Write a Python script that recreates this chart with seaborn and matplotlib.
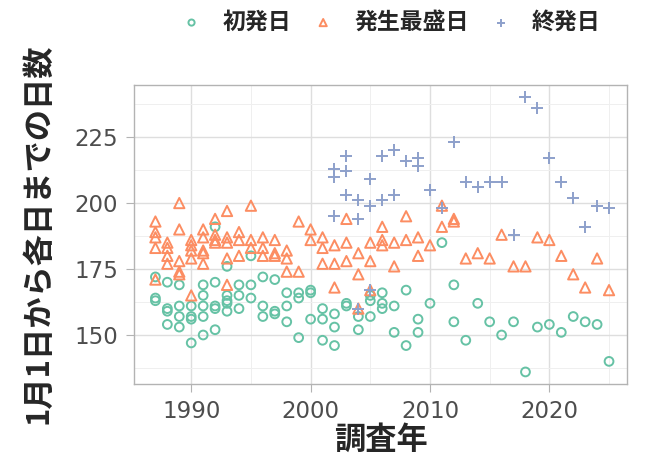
import numpy as np
import pandas as pd
import matplotlib
matplotlib.use('Agg')
import matplotlib.pyplot as plt
import seaborn as sns
from matplotlib.ticker import MultipleLocator

# 調査年ごとの観測値（複数地点）
years = list(range(1987, 2026))
first_day = [
    [172, 164, 163], [170, 160, 159, 154], [169, 161, 157, 153], [161, 157, 156, 147],
    [169, 165, 161, 157, 150], [191, 170, 161, 160, 152], [176, 165, 163, 162, 159],
    [169, 165, 160], [180, 169, 164], [172, 161, 157], [171, 159, 158], [166, 161, 155],
    [166, 164, 149], [167, 166, 156], [160, 156, 148], [158, 153, 146], [162, 161],
    [157, 152], [165, 163, 157], [166, 162, 160], [161, 151], [167, 146], [156, 151],
    [162], [185], [169, 155], [148], [162], [155], [150], [155], [136], [153], [154],
    [151], [157], [155], [154], [140],
]
peak_day = [
    [193, 189, 187, 183, 171], [185, 183, 180, 177], [200, 190, 178, 174, 173],
    [186, 184, 182, 179, 165], [190, 187, 182, 181, 177], [194, 188, 186, 185],
    [197, 187, 185, 179, 169], [189, 186, 180], [199, 186, 183], [187, 183, 180],
    [186, 181, 180], [182, 179, 174], [193, 174], [190, 186], [187, 183, 177],
    [184, 177, 168], [194, 185, 178], [181, 173, 160], [185, 178, 167], [191, 186, 184],
    [185, 176], [195, 186], [187, 180], [184], [199, 191], [194, 193], [179], [181],
    [179], [188], [176], [176], [187], [186], [180], [173], [168], [179], [167],
]
last_years = list(range(2002, 2026))
last_day = [
    [213, 210, 195], [218, 212, 203], [201, 194, 160], [209, 199, 167], [218, 201],
    [220, 203], [216], [217, 214], [205], [198], [223], [208], [206], [208], [208],
    [188], [240], [236], [217], [208], [202], [191], [199], [198],
]

series_names = ['初発日', '発生最盛日', '終発日']
colors = ['#66c2a5', '#fc8d62', '#8da0cb']
markers = ['o', '^', '+']


def to_long(yrs, vals, name):
    rows = [(y, v, name) for y, vs in zip(yrs, vals) for v in vs]
    return pd.DataFrame(rows, columns=['調査年', '日数', '項目'])


df = pd.concat([to_long(years, first_day, series_names[0]),
                to_long(years, peak_day, series_names[1]),
                to_long(last_years, last_day, series_names[2])], ignore_index=True)

sns.set_theme(style='whitegrid')
plt.rcParams['font.family'] = ['Noto Sans CJK JP', 'DejaVu Sans']

fig, ax = plt.subplots(figsize=(6.47, 4.61), dpi=100)
fig.subplots_adjust(left=0.207, right=0.969, top=0.816, bottom=0.168)

for name, c, m in zip(series_names, colors, markers):
    sub = df[df['項目'] == name]
    if m == '+':
        sns.scatterplot(data=sub, x='調査年', y='日数', marker=m, color=c,
                        s=75, linewidth=1.4, label=name, ax=ax)
    else:
        sns.scatterplot(data=sub, x='調査年', y='日数', marker=m, color=c,
                        facecolor='none', edgecolor=c, s=40 if m == 'o' else 55,
                        linewidth=1.4, label=name, ax=ax)

ax.set_xlim(1985.2, 2026.5)
ax.set_ylim(131.6, 244.8)
ax.set_xticks([1990, 2000, 2010, 2020])
ax.set_yticks([150, 175, 200, 225])
ax.xaxis.set_minor_locator(MultipleLocator(5))
ax.yaxis.set_minor_locator(MultipleLocator(12.5))
ax.grid(which='major', color='#dedede', linewidth=1.0)
ax.grid(which='minor', color='#efefef', linewidth=0.7)
ax.set_axisbelow(True)
ax.tick_params(which='major', length=5.5, width=0.8, color='#b3b3b3', pad=6,
               labelcolor='#4d4d4d', labelsize=16.5, bottom=True, left=True)
ax.tick_params(which='minor', length=0)
for lbl in ax.get_xticklabels() + ax.get_yticklabels():
    lbl.set_fontfamily('DejaVu Sans')
for sp in ax.spines.values():
    sp.set_color('#b3b3b3')
    sp.set_linewidth(1.0)

ax.set_xlabel('調査年', fontsize=22.5, fontweight='bold', labelpad=1)
ax.set_ylabel('1月1日から各日までの日数', fontsize=22.5, fontweight='bold', labelpad=14)

ax.legend(loc='center', bbox_to_anchor=(0.508, 1.21), ncol=3, frameon=False,
          prop={'weight': 'bold', 'size': 16.5}, markerscale=0.7,
          handlelength=2.0, handletextpad=0.35, columnspacing=0.4)

fig.savefig('out.png', dpi=100)
